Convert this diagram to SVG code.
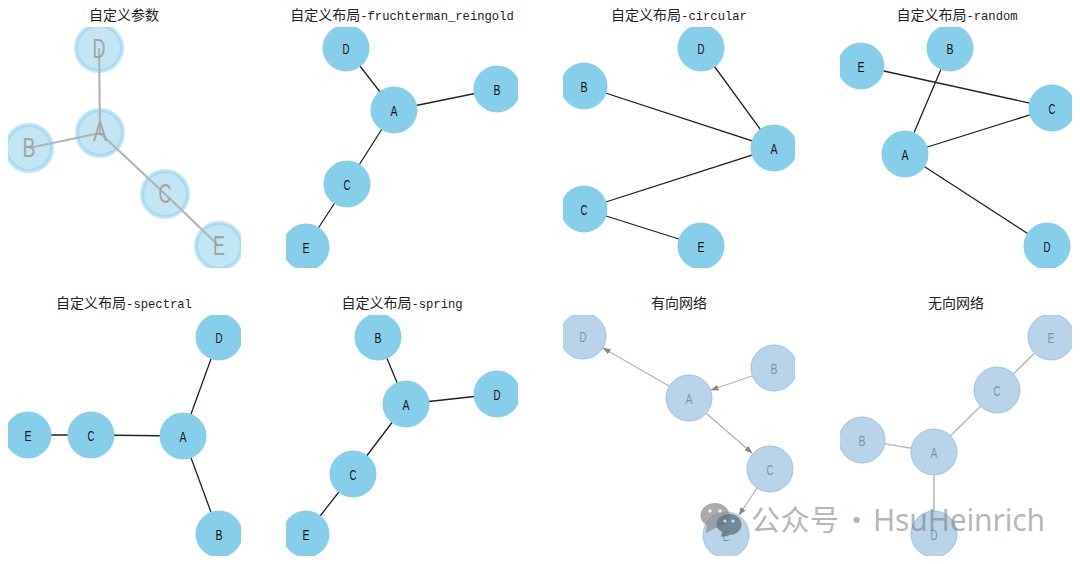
<svg xmlns="http://www.w3.org/2000/svg" width="1080" height="564" viewBox="0 0 1080 564">
<style>
.t{font-family:"Noto Sans CJK SC","Liberation Mono",monospace;font-size:14px;fill:#222;text-anchor:middle}
.t tspan{font-family:"Liberation Mono",monospace;font-size:12.2px}
.e{stroke:#222;stroke-width:1.3;fill:none}
.n{fill:#87ceeb}
.l{font-family:"Liberation Sans",sans-serif;font-size:15px;fill:#111;text-anchor:middle;dominant-baseline:central}
.p1 .e{stroke:#b4b4b4;stroke-width:2.2}
.p1 .n{fill:#87ceeb;fill-opacity:.5;stroke:#87ceeb;stroke-opacity:.5;stroke-width:4}
.l1{font-family:"Liberation Sans",sans-serif;font-size:28px;fill:#a3a3a3;text-anchor:middle;dominant-baseline:central}
.d .e{stroke:#b4b4b4;stroke-width:1.2}
.d .n{fill:#b9d4e9;stroke:#9cc3e0;stroke-width:1}
.d .l{fill:#7d93a8;font-size:15px}
.w{font-family:"Noto Sans CJK SC","Noto Sans",sans-serif;font-size:29px;fill:#777;fill-opacity:.55}
</style>
<defs>
<clipPath id="c1"><rect x="8" y="27" width="233" height="241"/></clipPath>
<clipPath id="c2"><rect x="286" y="27" width="232" height="241"/></clipPath>
<clipPath id="c3"><rect x="563" y="27" width="232" height="241"/></clipPath>
<clipPath id="c4"><rect x="840" y="27" width="232" height="241"/></clipPath>
<clipPath id="c5"><rect x="8" y="315" width="233" height="241"/></clipPath>
<clipPath id="c6"><rect x="286" y="315" width="232" height="241"/></clipPath>
<clipPath id="c7"><rect x="563" y="315" width="232" height="241"/></clipPath>
<clipPath id="c8"><rect x="840" y="315" width="232" height="241"/></clipPath>
<marker id="ah" markerWidth="8" markerHeight="6" refX="7.5" refY="3" orient="auto" markerUnits="userSpaceOnUse"><path d="M0 0L8 3L0 6z" fill="#888"/></marker>
</defs>

<g id="titles">
<text class="t" x="124" y="20">自定义参数</text>
<text class="t" x="402" y="20">自定义布局<tspan>-fruchterman_reingold</tspan></text>
<text class="t" x="679" y="20">自定义布局<tspan>-circular</tspan></text>
<text class="t" x="957" y="20">自定义布局<tspan>-random</tspan></text>
<text class="t" x="124" y="308">自定义布局<tspan>-spectral</tspan></text>
<text class="t" x="402" y="308">自定义布局<tspan>-spring</tspan></text>
<text class="t" x="679" y="308">有向网络</text>
<text class="t" x="956" y="308">无向网络</text>
</g>

<g class="p1" clip-path="url(#c1)">
<g id="p1-nodes">
<g id="p1-D"><circle class="n" cx="99" cy="48" r="23"/></g>
<g id="p1-A"><circle class="n" cx="100" cy="133" r="23"/></g>
<g id="p1-B"><circle class="n" cx="29" cy="148" r="23"/></g>
<g id="p1-C"><circle class="n" cx="165" cy="194" r="23"/></g>
<g id="p1-E"><circle class="n" cx="219" cy="246" r="23"/></g>
</g>
<g id="p1-edges">
<path class="e" d="M99 48L100 133M100 133L29 148M100 133L165 194M165 194L219 246"/>
</g>
<text class="l1" x="99" y="48" textLength="13" lengthAdjust="spacingAndGlyphs">D</text><text class="l1" x="100" y="131" textLength="14" lengthAdjust="spacingAndGlyphs">A</text><text class="l1" x="29" y="147" textLength="13" lengthAdjust="spacingAndGlyphs">B</text><text class="l1" x="165" y="193" textLength="13" lengthAdjust="spacingAndGlyphs">C</text><text class="l1" x="219" y="245" textLength="12" lengthAdjust="spacingAndGlyphs">E</text>
</g>

<g clip-path="url(#c2)">
<g id="p2-edges"><path class="e" d="M346 48L394 110M394 110L497 89M394 110L347 184M347 184L306 247"/></g>
<g id="p2-D"><circle class="n" cx="346" cy="48" r="23.5"/><text class="l" x="346" y="48" textLength="7" lengthAdjust="spacingAndGlyphs">D</text></g>
<g id="p2-A"><circle class="n" cx="394" cy="110" r="23.5"/><text class="l" x="394" y="110" textLength="7" lengthAdjust="spacingAndGlyphs">A</text></g>
<g id="p2-B"><circle class="n" cx="497" cy="89" r="23.5"/><text class="l" x="497" y="89" textLength="7" lengthAdjust="spacingAndGlyphs">B</text></g>
<g id="p2-C"><circle class="n" cx="347" cy="184" r="23.5"/><text class="l" x="347" y="184" textLength="7" lengthAdjust="spacingAndGlyphs">C</text></g>
<g id="p2-E"><circle class="n" cx="306" cy="247" r="23.5"/><text class="l" x="306" y="247" textLength="7" lengthAdjust="spacingAndGlyphs">E</text></g>
</g>

<g clip-path="url(#c3)">
<g id="p3-edges"><path class="e" d="M701 48L774 148M774 148L584 86M774 148L584 209M584 209L701 246"/></g>
<g id="p3-D"><circle class="n" cx="701" cy="48" r="23.5"/><text class="l" x="701" y="48" textLength="7" lengthAdjust="spacingAndGlyphs">D</text></g>
<g id="p3-A"><circle class="n" cx="774" cy="148" r="23.5"/><text class="l" x="774" y="148" textLength="7" lengthAdjust="spacingAndGlyphs">A</text></g>
<g id="p3-B"><circle class="n" cx="584" cy="86" r="23.5"/><text class="l" x="584" y="86" textLength="7" lengthAdjust="spacingAndGlyphs">B</text></g>
<g id="p3-C"><circle class="n" cx="584" cy="209" r="23.5"/><text class="l" x="584" y="209" textLength="7" lengthAdjust="spacingAndGlyphs">C</text></g>
<g id="p3-E"><circle class="n" cx="701" cy="246" r="23.5"/><text class="l" x="701" y="246" textLength="7" lengthAdjust="spacingAndGlyphs">E</text></g>
</g>

<g clip-path="url(#c4)">
<g id="p4-edges"><path class="e" d="M861 66L1052 108M950 48L905 154M905 154L1052 108M905 154L1047 246"/></g>
<g id="p4-E"><circle class="n" cx="861" cy="66" r="23.5"/><text class="l" x="861" y="66" textLength="7" lengthAdjust="spacingAndGlyphs">E</text></g>
<g id="p4-B"><circle class="n" cx="950" cy="48" r="23.5"/><text class="l" x="950" y="48" textLength="7" lengthAdjust="spacingAndGlyphs">B</text></g>
<g id="p4-C"><circle class="n" cx="1052" cy="108" r="23.5"/><text class="l" x="1052" y="108" textLength="7" lengthAdjust="spacingAndGlyphs">C</text></g>
<g id="p4-A"><circle class="n" cx="905" cy="154" r="23.5"/><text class="l" x="905" y="154" textLength="7" lengthAdjust="spacingAndGlyphs">A</text></g>
<g id="p4-D"><circle class="n" cx="1047" cy="246" r="23.5"/><text class="l" x="1047" y="246" textLength="7" lengthAdjust="spacingAndGlyphs">D</text></g>
</g>

<g clip-path="url(#c5)">
<g id="p5-edges"><path class="e" d="M219 337L183 436M183 436L219 534M183 436L91 435M91 435L28 435"/></g>
<g id="p5-D"><circle class="n" cx="219" cy="337" r="23.5"/><text class="l" x="219" y="337" textLength="7" lengthAdjust="spacingAndGlyphs">D</text></g>
<g id="p5-A"><circle class="n" cx="183" cy="436" r="23.5"/><text class="l" x="183" y="436" textLength="7" lengthAdjust="spacingAndGlyphs">A</text></g>
<g id="p5-E"><circle class="n" cx="28" cy="435" r="23.5"/><text class="l" x="28" y="435" textLength="7" lengthAdjust="spacingAndGlyphs">E</text></g>
<g id="p5-C"><circle class="n" cx="91" cy="435" r="23.5"/><text class="l" x="91" y="435" textLength="7" lengthAdjust="spacingAndGlyphs">C</text></g>
<g id="p5-B"><circle class="n" cx="219" cy="534" r="23.5"/><text class="l" x="219" y="534" textLength="7" lengthAdjust="spacingAndGlyphs">B</text></g>
</g>

<g clip-path="url(#c6)">
<g id="p6-edges"><path class="e" d="M378 337L406 404M406 404L497 394M406 404L353 474M353 474L306 534"/></g>
<g id="p6-B"><circle class="n" cx="378" cy="337" r="23.5"/><text class="l" x="378" y="337" textLength="7" lengthAdjust="spacingAndGlyphs">B</text></g>
<g id="p6-A"><circle class="n" cx="406" cy="404" r="23.5"/><text class="l" x="406" y="404" textLength="7" lengthAdjust="spacingAndGlyphs">A</text></g>
<g id="p6-D"><circle class="n" cx="497" cy="394" r="23.5"/><text class="l" x="497" y="394" textLength="7" lengthAdjust="spacingAndGlyphs">D</text></g>
<g id="p6-C"><circle class="n" cx="353" cy="474" r="23.5"/><text class="l" x="353" y="474" textLength="7" lengthAdjust="spacingAndGlyphs">C</text></g>
<g id="p6-E"><circle class="n" cx="306" cy="534" r="23.5"/><text class="l" x="306" y="534" textLength="7" lengthAdjust="spacingAndGlyphs">E</text></g>
</g>

<g class="d" clip-path="url(#c7)">
<g id="p7-edges">
<path class="e" marker-end="url(#ah)" d="M669 386L603 348"/>
<path class="e" marker-end="url(#ah)" d="M752 376L711 390"/>
<path class="e" marker-end="url(#ah)" d="M706 413L752 453"/>
<path class="e" marker-end="url(#ah)" d="M757 488L739 515"/>
</g>
<g id="p7-D"><circle class="n" cx="583" cy="336" r="23"/><text class="l" x="583" y="336" textLength="7" lengthAdjust="spacingAndGlyphs">D</text></g>
<g id="p7-B"><circle class="n" cx="774" cy="368" r="23"/><text class="l" x="774" y="368" textLength="7" lengthAdjust="spacingAndGlyphs">B</text></g>
<g id="p7-A"><circle class="n" cx="689" cy="398" r="23"/><text class="l" x="689" y="398" textLength="7" lengthAdjust="spacingAndGlyphs">A</text></g>
<g id="p7-C"><circle class="n" cx="770" cy="469" r="23"/><text class="l" x="770" y="469" textLength="7" lengthAdjust="spacingAndGlyphs">C</text></g>
<g id="p7-E"><circle class="n" cx="726" cy="535" r="23"/><text class="l" x="726" y="535" textLength="7" lengthAdjust="spacingAndGlyphs">E</text></g>
</g>

<g class="d" clip-path="url(#c8)">
<g id="p8-edges"><path class="e" style="stroke-width:1.6;stroke:#bdbdbd" d="M1051 337L997 390M997 390L934 452M862 440L934 452M934 452L934 534"/></g>
<g id="p8-E"><circle class="n" cx="1051" cy="337" r="23"/><text class="l" x="1051" y="337" textLength="7" lengthAdjust="spacingAndGlyphs">E</text></g>
<g id="p8-C"><circle class="n" cx="997" cy="390" r="23"/><text class="l" x="997" y="390" textLength="7" lengthAdjust="spacingAndGlyphs">C</text></g>
<g id="p8-B"><circle class="n" cx="862" cy="440" r="23"/><text class="l" x="862" y="440" textLength="7" lengthAdjust="spacingAndGlyphs">B</text></g>
<g id="p8-A"><circle class="n" cx="934" cy="452" r="23"/><text class="l" x="934" y="452" textLength="7" lengthAdjust="spacingAndGlyphs">A</text></g>
<g id="p8-D"><circle class="n" cx="934" cy="534" r="23"/><text class="l" x="934" y="534" textLength="7" lengthAdjust="spacingAndGlyphs">D</text></g>
</g>

<g id="watermark">
<path d="M715 503c8 0 14.500 5.500 14.500 12.500 0 7-6.500 12.500-14.500 12.500l-9 5 1-7.500c-4-2.500-6.500-6-6.500-10 0-7 6.500-12.500 14.500-12.500z" fill="#8a8a8a" fill-opacity=".72"/>
<circle cx="710" cy="511" r="1.800" fill="#fff" fill-opacity=".8"/><circle cx="720" cy="511" r="1.800" fill="#fff" fill-opacity=".8"/>
<path d="M729 514c7 0 12.500 4.500 12.500 10.500 0 6-5.500 10.500-12.500 10.500h-1l-7 2 1-5c-3.500-2-5.500-4.500-5.500-7.500 0-6 5.500-10.500 12.500-10.500z" fill="#5f7380" fill-opacity=".78"/>
<circle cx="725" cy="521" r="1.600" fill="#fff" fill-opacity=".7"/><circle cx="733" cy="521" r="1.600" fill="#fff" fill-opacity=".7"/>
<text class="w" x="751" y="531" textLength="88">公众号</text>
<text class="w" x="842" y="531">·</text>
<text class="w" x="873" y="531" textLength="172" style="font-family:'Noto Sans',sans-serif;font-size:30px">HsuHeinrich</text>
</g>
</svg>
